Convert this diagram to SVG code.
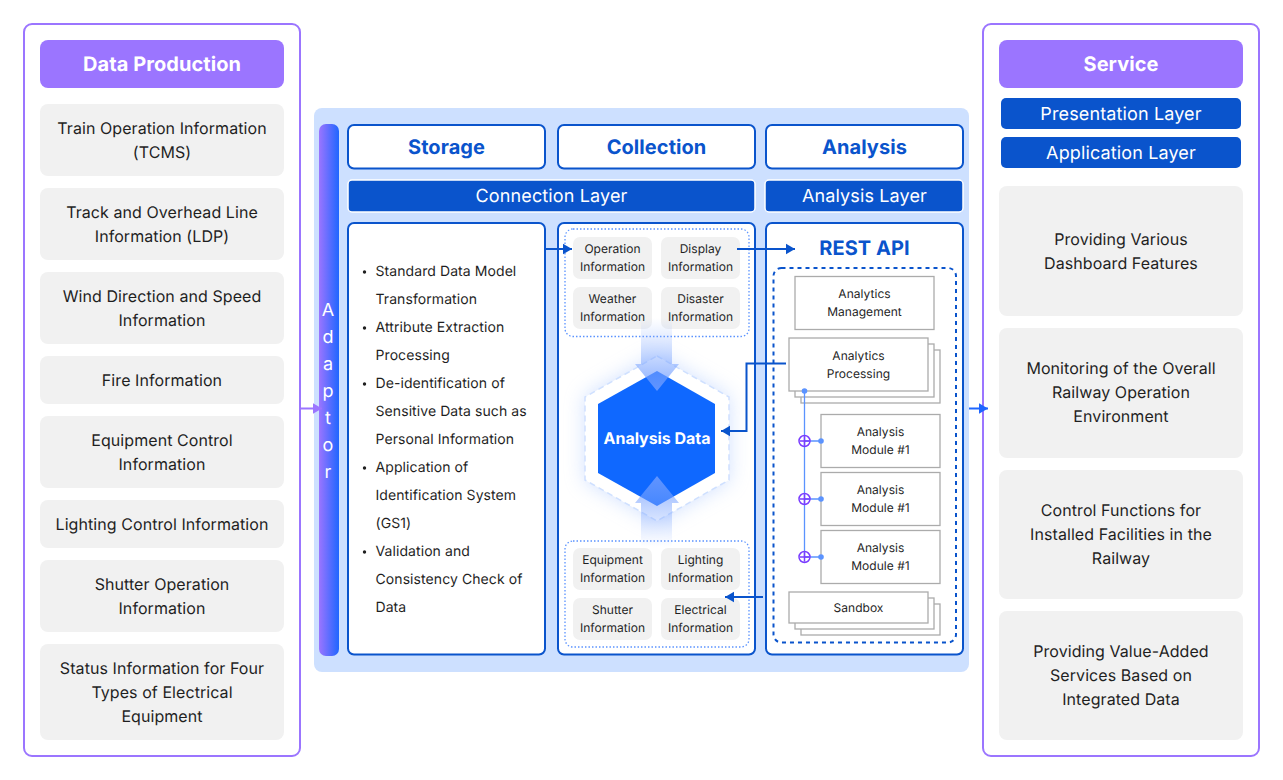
<svg xmlns="http://www.w3.org/2000/svg" width="1283" height="780" viewBox="0 0 1283 780">
<style>
text{font-family:Inter,"Noto Sans","Liberation Sans",sans-serif;text-rendering:geometricPrecision;text-anchor:middle;fill:#1f1f1f}
.panel{fill:#fff;stroke:#9b75ff;stroke-width:2}
.head{fill:#9b75ff}
.headt{font-size:20px;font-weight:700;fill:#fff;letter-spacing:.07px}
.item{fill:#f1f1f1}
.it{font-size:16px;letter-spacing:.07px}
.title{fill:#fff;stroke:#0a54cc;stroke-width:2}
.titlet{font-size:20px;font-weight:700;fill:#0a54cc;letter-spacing:.07px}
.layer{fill:#0a54cc}
.layert{font-size:18px;fill:#fff;letter-spacing:.13px}
.sub{fill:#fff;stroke:#0a54cc;stroke-width:2}
.dot{fill:none;stroke:#5b93ff;stroke-width:1.3;stroke-dasharray:1.5 2}
.cell{fill:#f1f1f1}
.ct{font-size:12px;letter-spacing:.03px}
.box{fill:#fff;stroke:#ababab;stroke-width:1.3}
.bl{font-size:14px;text-anchor:start;letter-spacing:.08px}
.bullet{fill:#1f1f1f}
.line{fill:none;stroke:#0a54cc;stroke-width:2}
.thin{fill:none;stroke:#5b93ff;stroke-width:1.3}
.tap{fill:#5b93ff}
.plus{fill:none;stroke:#7a3dff;stroke-width:1.5}
</style>
<defs>
<linearGradient id="bar" x1="0" x2="1" y1="0" y2="0"><stop offset="0" stop-color="#9b75ff"/><stop offset="1" stop-color="#1f66ff"/></linearGradient>
<linearGradient id="down" x1="0" x2="0" y1="0" y2="1"><stop offset="0" stop-color="#8fb2ff" stop-opacity="0"/><stop offset="1" stop-color="#6f9cff" stop-opacity=".85"/></linearGradient>
<linearGradient id="up" x1="0" x2="0" y1="1" y2="0"><stop offset="0" stop-color="#8fb2ff" stop-opacity="0"/><stop offset="1" stop-color="#6f9cff" stop-opacity=".85"/></linearGradient>
<filter id="glow" x="-30%" y="-30%" width="160%" height="160%"><feGaussianBlur stdDeviation="10"/></filter>
<marker id="ab" markerUnits="userSpaceOnUse" markerWidth="10" markerHeight="12" refX="9" refY="6" orient="auto"><path d="M0 0.8L9 6L0 11.2Z" fill="#0a54cc"/></marker>
<marker id="ap" markerUnits="userSpaceOnUse" markerWidth="10" markerHeight="12" refX="9" refY="6" orient="auto"><path d="M0 0.8L9 6L0 11.2Z" fill="#9b75ff"/></marker>
<marker id="al" markerUnits="userSpaceOnUse" markerWidth="10" markerHeight="12" refX="9" refY="6" orient="auto"><path d="M0 0.8L9 6L0 11.2Z" fill="#1f66ff"/></marker>
</defs>

<g id="data-production">
<rect class="panel" x="24" y="24" width="276" height="732" rx="8"/>
<rect class="head" x="40" y="40" width="244" height="48" rx="8"/>
<text class="headt" x="162" y="71">Data Production</text>
<rect class="item" x="40" y="104" width="244" height="72" rx="8"/>
<text class="it" x="162" y="134">Train Operation Information</text><text class="it" x="162" y="158">(TCMS)</text>
<rect class="item" x="40" y="188" width="244" height="72" rx="8"/>
<text class="it" x="162" y="218">Track and Overhead Line</text><text class="it" x="162" y="242">Information (LDP)</text>
<rect class="item" x="40" y="272" width="244" height="72" rx="8"/>
<text class="it" x="162" y="302">Wind Direction and Speed</text><text class="it" x="162" y="326">Information</text>
<rect class="item" x="40" y="356" width="244" height="48" rx="8"/>
<text class="it" x="162" y="386">Fire Information</text>
<rect class="item" x="40" y="416" width="244" height="72" rx="8"/>
<text class="it" x="162" y="446">Equipment Control</text><text class="it" x="162" y="470">Information</text>
<rect class="item" x="40" y="500" width="244" height="48" rx="8"/>
<text class="it" x="162" y="530">Lighting Control Information</text>
<rect class="item" x="40" y="560" width="244" height="72" rx="8"/>
<text class="it" x="162" y="590">Shutter Operation</text><text class="it" x="162" y="614">Information</text>
<rect class="item" x="40" y="644" width="244" height="96" rx="8"/>
<text class="it" x="162" y="674">Status Information for Four</text><text class="it" x="162" y="698">Types of Electrical</text><text class="it" x="162" y="722">Equipment</text>
</g>

<g id="platform">
<rect x="314" y="108" width="655" height="564" rx="8" fill="#cde0ff"/>
</g>
<g id="adaptor">
<rect x="319" y="124" width="20" height="532" rx="7" fill="url(#bar)"/>
<g style="font-size:18px">
<text x="328" y="316" style="fill:#fff">A</text><text x="328" y="343" style="fill:#fff">d</text><text x="328" y="370" style="fill:#fff">a</text><text x="328" y="397" style="fill:#fff">p</text><text x="328" y="424" style="fill:#fff">t</text><text x="328" y="451" style="fill:#fff">o</text><text x="328" y="478" style="fill:#fff">r</text>
</g>
</g>

<g id="storage">
<rect class="title" x="348" y="125" width="197" height="43.500" rx="6"/>
<text class="titlet" x="446.500" y="154">Storage</text>
<rect class="sub" x="348" y="223" width="197" height="431.500" rx="6"/>
<circle class="bullet" cx="364.500" cy="272" r="1.700"/><text class="bl" x="375.500" y="276">Standard Data Model</text><text class="bl" x="375.500" y="304">Transformation</text>
<circle class="bullet" cx="364.500" cy="328" r="1.700"/><text class="bl" x="375.500" y="332">Attribute Extraction</text><text class="bl" x="375.500" y="360">Processing</text>
<circle class="bullet" cx="364.500" cy="384" r="1.700"/><text class="bl" x="375.500" y="388">De-identification of</text><text class="bl" x="375.500" y="416">Sensitive Data such as</text><text class="bl" x="375.500" y="444">Personal Information</text>
<circle class="bullet" cx="364.500" cy="468" r="1.700"/><text class="bl" x="375.500" y="472">Application of</text><text class="bl" x="375.500" y="500">Identification System</text><text class="bl" x="375.500" y="528">(GS1)</text>
<circle class="bullet" cx="364.500" cy="552" r="1.700"/><text class="bl" x="375.500" y="556">Validation and</text><text class="bl" x="375.500" y="584">Consistency Check of</text><text class="bl" x="375.500" y="612">Data</text>
</g>

<g id="connection-layer">
<rect class="layer" x="348" y="180" width="407" height="32" rx="4" stroke="#fff" stroke-width="1.500"/>
<text class="layert" x="551.500" y="202">Connection Layer</text>
</g>

<g id="collection">
<rect class="title" x="558" y="125" width="197" height="43.500" rx="6"/>
<text class="titlet" x="656.500" y="154">Collection</text>
<rect class="sub" x="558" y="223" width="197" height="431.500" rx="6"/>
<rect class="dot" x="565" y="229" width="184" height="107.500" rx="8"/>
<rect class="cell" x="573" y="237" width="79" height="42" rx="7"/>
<text class="ct" x="612.500" y="253">Operation</text><text class="ct" x="612.500" y="271">Information</text>
<rect class="cell" x="661" y="237" width="79" height="42" rx="7"/>
<text class="ct" x="700.500" y="253">Display</text><text class="ct" x="700.500" y="271">Information</text>
<rect class="cell" x="573" y="287" width="79" height="42" rx="7"/>
<text class="ct" x="612.500" y="303">Weather</text><text class="ct" x="612.500" y="321">Information</text>
<rect class="cell" x="661" y="287" width="79" height="42" rx="7"/>
<text class="ct" x="700.500" y="303">Disaster</text><text class="ct" x="700.500" y="321">Information</text>
<rect class="dot" x="565" y="541" width="184" height="106" rx="8"/>
<rect class="cell" x="573" y="548" width="79" height="42" rx="7"/>
<text class="ct" x="612.500" y="564">Equipment</text><text class="ct" x="612.500" y="582">Information</text>
<rect class="cell" x="661" y="548" width="79" height="42" rx="7"/>
<text class="ct" x="700.500" y="564">Lighting</text><text class="ct" x="700.500" y="582">Information</text>
<rect class="cell" x="573" y="598" width="79" height="42" rx="7"/>
<text class="ct" x="612.500" y="614">Shutter</text><text class="ct" x="612.500" y="632">Information</text>
<rect class="cell" x="661" y="598" width="79" height="42" rx="7"/>
<text class="ct" x="700.500" y="614">Electrical</text><text class="ct" x="700.500" y="632">Information</text>
</g>

<g id="analysis-data">
<path d="M657 356L729 397V480L657 521L585 480V397Z" fill="#a9c6ff" opacity=".55" filter="url(#glow)"/>
<path d="M657 356L729 397V480L657 521L585 480V397Z" fill="#fff" stroke="#cfe0ff" stroke-width="1.500" stroke-dasharray="6 4"/>
<path d="M657 371L715 404V473L657 506L598 473V404Z" fill="#0f68ff"/>
<text x="657" y="444" style="font-size:16px;font-weight:700;fill:#fff;letter-spacing:-.05px">Analysis Data</text>
<path d="M641 318H672V364H679L657 391L635 364H641Z" fill="url(#down)"/>
<path d="M641 547H672V503H679L657 476L635 503H641Z" fill="url(#up)"/>
</g>

<g id="analysis">
<rect class="title" x="766" y="125" width="197" height="43.500" rx="6"/>
<text class="titlet" x="864.500" y="154">Analysis</text>
<rect class="sub" x="766" y="223" width="197" height="431.500" rx="6"/>
<text x="864.500" y="255" style="font-size:20px;font-weight:700;fill:#0a54cc;letter-spacing:.07px">REST API</text>
<rect x="773.500" y="268" width="182.500" height="374.500" rx="8" fill="none" stroke="#0a54cc" stroke-width="2" stroke-dasharray="4 4"/>
</g>
<g id="analysis-layer">
<rect class="layer" x="765" y="180" width="198" height="32" rx="4" stroke="#fff" stroke-width="1.500"/>
<text class="layert" x="864.500" y="202">Analysis Layer</text>
</g>
<g id="analytics-management">
<rect class="box" x="795" y="276.500" width="139" height="53"/>
<text class="ct" x="864.500" y="298">Analytics</text><text class="ct" x="864.500" y="316">Management</text>
</g>
<g id="analytics-processing">
<rect class="box" x="801" y="350" width="139" height="53"/><rect class="box" x="795" y="344" width="139" height="53"/><rect class="box" x="789" y="338" width="139" height="53"/>
<text class="ct" x="858.500" y="360">Analytics</text><text class="ct" x="858.500" y="378">Processing</text>
</g>
<g id="module-1"><rect class="box" x="821" y="414.500" width="119" height="53"/><text class="ct" x="880.500" y="436">Analysis</text><text class="ct" x="880.500" y="454">Module #1</text></g>
<g id="module-2"><rect class="box" x="821" y="472.500" width="119" height="53"/><text class="ct" x="880.500" y="494">Analysis</text><text class="ct" x="880.500" y="512">Module #1</text></g>
<g id="module-3"><rect class="box" x="821" y="530.500" width="119" height="53"/><text class="ct" x="880.500" y="552">Analysis</text><text class="ct" x="880.500" y="570">Module #1</text></g>
<g id="sandbox">
<rect class="box" x="801" y="604" width="139" height="31"/><rect class="box" x="795" y="598" width="139" height="31"/><rect class="box" x="789" y="592" width="139" height="31"/>
<text class="ct" x="858.500" y="612">Sandbox</text>
</g>

<g id="service">
<rect class="panel" x="983" y="24" width="276" height="732" rx="8"/>
<rect class="head" x="999" y="40" width="244" height="48" rx="8"/>
<text class="headt" x="1121" y="71">Service</text>
<rect class="layer" x="1001" y="98" width="240" height="31" rx="5"/>
<text class="layert" x="1121" y="120">Presentation Layer</text>
<rect class="layer" x="1001" y="137" width="240" height="31" rx="5"/>
<text class="layert" x="1121" y="159">Application Layer</text>
<rect class="item" x="999" y="186" width="244" height="130" rx="8"/>
<text class="it" x="1121" y="245">Providing Various</text><text class="it" x="1121" y="269">Dashboard Features</text>
<rect class="item" x="999" y="328" width="244" height="130" rx="8"/>
<text class="it" x="1121" y="374">Monitoring of the Overall</text><text class="it" x="1121" y="398">Railway Operation</text><text class="it" x="1121" y="422">Environment</text>
<rect class="item" x="999" y="470" width="244" height="129" rx="8"/>
<text class="it" x="1121" y="516">Control Functions for</text><text class="it" x="1121" y="540">Installed Facilities in the</text><text class="it" x="1121" y="564">Railway</text>
<rect class="item" x="999" y="611" width="244" height="129" rx="8"/>
<text class="it" x="1121" y="657">Providing Value-Added</text><text class="it" x="1121" y="681">Services Based on</text><text class="it" x="1121" y="705">Integrated Data</text>
</g>

<g id="connectors">
<path d="M300 408.500H322" fill="none" stroke="#9b75ff" stroke-width="2" marker-end="url(#ap)"/>
<path d="M969 408.500H988" fill="none" stroke="#1f66ff" stroke-width="2" marker-end="url(#al)"/>
<path class="line" d="M546 249H572" marker-end="url(#ab)"/>
<path class="line" d="M737 249H795" marker-end="url(#ab)"/>
<path class="line" d="M786 363.500H746.500V431H721" marker-end="url(#ab)"/>
<path class="line" d="M763 597H725" marker-end="url(#ab)"/>
<path class="thin" d="M804.500 391V557M804.500 441H821M804.500 499H821M804.500 557H821"/>
<circle class="tap" cx="804.500" cy="391" r="2.800"/>
<circle class="tap" cx="821" cy="441" r="2.800"/><circle class="tap" cx="821" cy="499" r="2.800"/><circle class="tap" cx="821" cy="557" r="2.800"/>
<path class="plus" d="M799 441a5.500 5.500 0 1 0 11 0a5.500 5.500 0 1 0-11 0M804.500 436.500v9M800 441h9M799 499a5.500 5.500 0 1 0 11 0a5.500 5.500 0 1 0-11 0M804.500 494.500v9M800 499h9M799 557a5.500 5.500 0 1 0 11 0a5.500 5.500 0 1 0-11 0M804.500 552.500v9M800 557h9"/>
</g>
</svg>
